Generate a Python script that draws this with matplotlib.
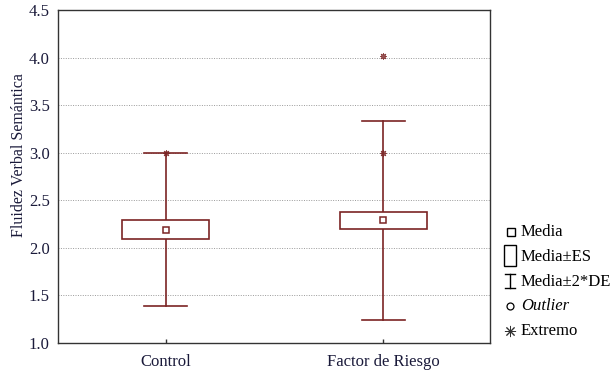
import matplotlib
matplotlib.use('Agg')
import matplotlib.pyplot as plt
from matplotlib.patches import Rectangle
from matplotlib.lines import Line2D

plt.rcParams['font.family'] = ['Liberation Serif', 'DejaVu Serif']

# data
groups = ['Control', 'Factor de Riesgo']
means = [2.19, 2.29]
se_low = [2.09, 2.20]
se_high = [2.29, 2.38]
sd_low = [1.39, 1.24]
sd_high = [3.00, 3.33]
extremes = [[3.0], [3.0, 4.02]]

yticks = [1.0, 1.5, 2.0, 2.5, 3.0, 3.5, 4.0, 4.5]
box_col = '#7b2424'
text_col = '#1a1a3a'
fs = 12

fig = plt.figure(figsize=(6.13, 3.72), dpi=100)
ax = fig.add_axes([58/613, 1 - 343/372, 432/613, 333/372])

box_w = 0.40
cap_w = 0.20
for i in range(len(groups)):
    ax.plot([i, i], [sd_low[i], se_low[i]], color=box_col, lw=1.2, zorder=3)
    ax.plot([i, i], [se_high[i], sd_high[i]], color=box_col, lw=1.2, zorder=3)
    ax.plot([i - cap_w/2, i + cap_w/2], [sd_low[i]] * 2, color=box_col, lw=1.2, zorder=3)
    ax.plot([i - cap_w/2, i + cap_w/2], [sd_high[i]] * 2, color=box_col, lw=1.2, zorder=3)
    ax.add_patch(Rectangle((i - box_w/2, se_low[i]), box_w, se_high[i] - se_low[i],
                           facecolor='white', edgecolor=box_col, lw=1.2, zorder=4))
    ax.plot(i, means[i], marker='s', ms=5, mfc='white', mec=box_col, mew=1.1, zorder=5)
    for e in extremes[i]:
        ax.plot(i, e, marker=(8, 2, 0), ms=5, color=box_col, mew=0.6, alpha=0.8, zorder=5)
        ax.plot(i, e, marker='s', ms=3.5, mfc='none', mec=box_col, mew=0.5, alpha=0.8, zorder=5)

ax.set_xlim(-0.495, 1.49)
ax.set_ylim(1.0, 4.5)
ax.set_xticks(range(len(groups)))
ax.set_xticklabels(groups, fontsize=fs, color=text_col)
ax.set_yticks(yticks)
ax.set_yticklabels([f'{t:.1f}' for t in yticks], fontsize=fs, color=text_col)
ax.tick_params(axis='x', direction='in', length=3, width=1.0, color='#333333', pad=8)
ax.tick_params(axis='y', length=0, pad=6)
ax.set_ylabel('Fluidez Verbal Semántica', fontsize=11.5, color=text_col, labelpad=2.5)
ax.yaxis.set_label_coords(-0.072, 0.565)
ax.yaxis.grid(True, linestyle=(0, (1, 1.5)), color='#9a9a9a', lw=0.7)
ax.set_axisbelow(True)
for s in ax.spines.values():
    s.set_color('#333333')
    s.set_linewidth(1.0)

# legend drawn by hand on the figure
def fx(x):
    return x / 613

def fy(y):
    return 1 - y / 372

fig.lines.append(Line2D([fx(511)], [fy(232)], marker='s', ms=6, mfc='white', mec='black',
                        mew=1.0, transform=fig.transFigure))
fig.patches.append(Rectangle((fx(504), fy(266)), 12/613, 21/372, facecolor='white',
                             edgecolor='black', lw=1.0, transform=fig.transFigure))
fig.lines.append(Line2D([fx(510), fx(510)], [fy(274), fy(288)], color='black', lw=1.0,
                        transform=fig.transFigure))
fig.lines.append(Line2D([fx(505), fx(515)], [fy(274), fy(274)], color='black', lw=1.0,
                        transform=fig.transFigure))
fig.lines.append(Line2D([fx(505), fx(515)], [fy(288), fy(288)], color='black', lw=1.0,
                        transform=fig.transFigure))
fig.lines.append(Line2D([fx(510)], [fy(306)], marker='o', ms=5, mfc='white', mec='black',
                        mew=0.9, transform=fig.transFigure))
fig.lines.append(Line2D([fx(510)], [fy(331)], marker=(8, 2, 0), ms=8, color='#333333',
                        mew=0.7, transform=fig.transFigure))

leg_items = [('Media', 232, 'normal'), ('Media±ES', 257, 'normal'),
             ('Media±2*DE', 282, 'normal'), ('Outlier', 306, 'italic'),
             ('Extremo', 331, 'normal')]
for label, y, style in leg_items:
    fig.text(fx(521), fy(y), label, fontsize=fs, color='black', style=style, va='center')

fig.savefig('out.png', dpi=100)
